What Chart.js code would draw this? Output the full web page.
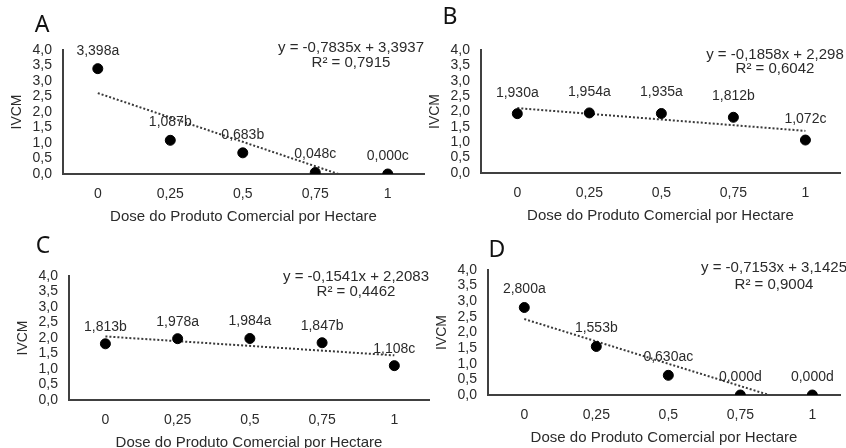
<!DOCTYPE html>
<html>
<head>
<meta charset="utf-8">
<script src="https://cdn.jsdelivr.net/npm/chart.js@4.4.1/dist/chart.umd.min.js"></script>
<style>
  body { margin: 0; background: #fff; width: 846px; height: 448px; overflow: hidden; position: relative; }
  canvas { position: absolute; }
</style>
</head>
<body>
<canvas id="chartA"></canvas>
<canvas id="chartB"></canvas>
<canvas id="chartC"></canvas>
<canvas id="chartD"></canvas>
<script>
// doses (x categories) and y ticks shared by all four panels
const doses = [0, 0.25, 0.5, 0.75, 1];
const yTicks = [0, 0.5, 1, 1.5, 2, 2.5, 3, 3.5, 4];

// A
const valuesA = [3.398, 1.087, 0.683, 0.048, 0.000];
const lettersA = ['a', 'b', 'b', 'c', 'c'];
const trendXA = [0, 0.83];
const trendYA = [2.61, 0];
const equationA = ['y = -0,7835x + 3,3937', 'R² = 0,7915'];

// B
const valuesB = [1.930, 1.954, 1.935, 1.812, 1.072];
const lettersB = ['a', 'a', 'a', 'b', 'c'];
const trendXB = [0, 1];
const trendYB = [2.11, 1.37];
const equationB = ['y = -0,1858x + 2,298', 'R² = 0,6042'];

// C
const valuesC = [1.813, 1.978, 1.984, 1.847, 1.108];
const lettersC = ['b', 'a', 'a', 'b', 'c'];
const trendXC = [0, 1];
const trendYC = [2.05, 1.44];
const equationC = ['y = -0,1541x + 2,2083', 'R² = 0,4462'];

// D
const valuesD = [2.800, 1.553, 0.630, 0.000, 0.000];
const lettersD = ['a', 'b', 'ac', 'd', 'd'];
const trendXD = [0, 0.85];
const trendYD = [2.43, 0];
const equationD = ['y = -0,7153x + 3,1425', 'R² = 0,9004'];

const xTitle = 'Dose do Produto Comercial por Hectare';
const yTitle = 'IVCM';

const FONT = "'Liberation Sans', Arial, sans-serif";
const TEXT = '#2b2b2b';
const Y_W = 63;   // width kept for the y axis
const X_H = 52;   // height kept for the x axis
const TOP = 50;   // space above the plot area

// page layout of each panel's plot area
const panels = [
  { id: 'chartA', letter: 'A', values: valuesA, letters: lettersA, tx: trendXA, ty: trendYA, eq: equationA,
    left: 63, top: 50, width: 367, height: 124, xMin: -0.12, xMax: 1.125,
    letterPos: [42, 25], eqX: 351, eqY: [48, 63], labelOffset: 18 },
  { id: 'chartB', letter: 'B', values: valuesB, letters: lettersB, tx: trendXB, ty: trendYB, eq: equationB,
    left: 481, top: 50, width: 365, height: 123, xMin: -0.126, xMax: 1.12,
    letterPos: [450, 17], eqX: 775, eqY: [55, 69], labelOffset: 21 },
  { id: 'chartC', letter: 'C', values: valuesC, letters: lettersC, tx: trendXC, ty: trendYC, eq: equationC,
    left: 69, top: 276, width: 366, height: 124, xMin: -0.126, xMax: 1.12,
    letterPos: [43, 246], eqX: 356, eqY: [277, 292], labelOffset: 17 },
  { id: 'chartD', letter: 'D', values: valuesD, letters: lettersD, tx: trendXD, ty: trendYD, eq: equationD,
    left: 488, top: 270, width: 358, height: 125, xMin: -0.126, xMax: 1.096,
    letterPos: [497, 250], eqX: 774, eqY: [268, 285], labelOffset: 18 }
];

const fmt = v => String(v).replace('.', ',');

// draws point labels, equation and panel letter
const panelText = {
  id: 'panelText',
  afterDatasetsDraw(chart, args, opts) {
    const p = opts.panel;
    const ctx = chart.ctx;
    const offX = p.left - Y_W, offY = p.top - TOP;
    ctx.save();
    ctx.fillStyle = TEXT;
    ctx.textAlign = 'center';
    ctx.textBaseline = 'middle';
    ctx.font = '14px ' + FONT;
    const meta = chart.getDatasetMeta(0);
    meta.data.forEach((pt, i) => {
      const label = p.values[i].toFixed(3).replace('.', ',') + p.letters[i];
      ctx.fillText(label, pt.x, pt.y - p.labelOffset);
    });
    ctx.font = '15px ' + FONT;
    ctx.fillText(p.eq[0], p.eqX - offX, p.eqY[0] - offY);
    ctx.fillText(p.eq[1], p.eqX - offX, p.eqY[1] - offY);
    ctx.fillStyle = '#111';
    ctx.font = "23px 'Noto Sans', sans-serif";
    ctx.fillText(p.letter, p.letterPos[0] - offX, p.letterPos[1] - offY);
    ctx.restore();
  }
};

function makePanel(p) {
  const canvas = document.getElementById(p.id);
  canvas.width = Y_W + p.width;
  canvas.height = TOP + p.height + X_H;
  canvas.style.left = (p.left - Y_W) + 'px';
  canvas.style.top = (p.top - TOP) + 'px';

  new Chart(canvas, {
    type: 'scatter',
    data: {
      datasets: [
        {
          data: doses.map((d, i) => ({ x: d, y: p.values[i] })),
          pointRadius: 5,
          pointHoverRadius: 5,
          backgroundColor: '#000',
          borderColor: '#000'
        },
        {
          data: p.tx.map((x, i) => ({ x: x, y: p.ty[i] })),
          showLine: true,
          borderColor: '#3a3a3a',
          borderWidth: 2,
          borderDash: [2, 2],
          pointRadius: 0,
          fill: false
        }
      ]
    },
    options: {
      responsive: false,
      animation: false,
      layout: { padding: { top: TOP, left: 0, right: 0, bottom: 0 } },
      plugins: {
        legend: { display: false },
        tooltip: { enabled: false },
        panelText: { panel: p }
      },
      scales: {
        x: {
          type: 'linear',
          min: p.xMin,
          max: p.xMax,
          afterBuildTicks: axis => { axis.ticks = doses.map(v => ({ value: v })); },
          afterFit: scale => { scale.height = X_H; },
          grid: { display: false, drawTicks: false },
          border: { color: '#404040', width: 2 },
          ticks: { padding: 12, autoSkip: false, maxRotation: 0, color: TEXT, font: { family: FONT, size: 14 }, callback: v => fmt(v) },
          title: { display: true, text: xTitle, color: TEXT, font: { family: FONT, size: 15 }, padding: { top: 0, bottom: 0 } }
        },
        y: {
          min: 0,
          max: 4,
          afterBuildTicks: axis => { axis.ticks = yTicks.map(v => ({ value: v })); },
          afterFit: scale => { scale.width = Y_W; },
          grid: { display: false, drawTicks: false },
          border: { color: '#404040', width: 2 },
          ticks: { padding: 11, autoSkip: false, color: TEXT, font: { family: FONT, size: 14 }, callback: v => v.toFixed(1).replace('.', ',') },
          title: { display: true, text: yTitle, color: TEXT, font: { family: FONT, size: 14 }, padding: { top: 9, bottom: 0 } }
        }
      }
    },
    plugins: [panelText]
  });
}

panels.forEach(makePanel);
</script>
</body>
</html>
